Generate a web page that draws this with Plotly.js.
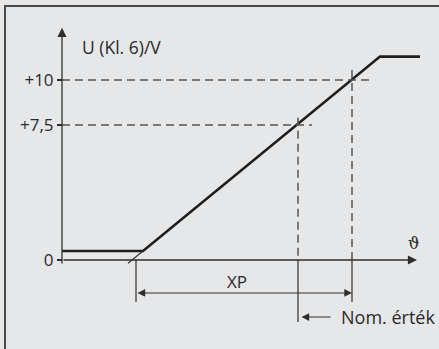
<!DOCTYPE html>
<html>
<head>
<meta charset="utf-8">
<script src="https://cdn.plot.ly/plotly-3.0.1.min.js"></script>
<style>html,body{margin:0;padding:0;background:#e6e7e9;}#chart{width:439px;height:349px;}</style>
</head>
<body>
<div id="chart"></div>
<script>
// ---- data (arbitrary temperature units, U in volts) ----
const curveTheta = [0, 8.1, 31.8, 35.8];
const curveU = [0.5, 0.5, 11.3, 11.3];
const extensionTheta = [8.1, 6.6];
const extensionU = [0.5, -0.18];
const levelU = [7.5, 10];
const levelLabels = ['+7,5', '+10'];
const levelTheta = [23.6, 29.0];
const hLineEnd = [25.0, 31.1];
const vLineTop = [7.9, 10.56];
const vLineBottom = [-3.44, -2.33];
const xpStart = 7.4;
const xpArrowU = -1.83;
const nomArrowU = -3.17;
const tickVals = [0, 7.5, 10];
const tickText = ['0', '+7,5', '+10'];

const dark = '#1f1f1f', axisCol = '#2e2e2e', dashCol = '#555555', txt = '#2a2a2a';
const font = 'Open Sans, Noto Sans, sans-serif';

const traces = [];
// main characteristic
traces.push({x: curveTheta, y: curveU, mode: 'lines', line: {color: dark, width: 2.6}, hoverinfo: 'skip', showlegend: false});
// thin extension of the slope
traces.push({x: extensionTheta, y: extensionU, mode: 'lines', line: {color: axisCol, width: 1.1}, hoverinfo: 'skip', showlegend: false});
// dashed reference lines
levelU.forEach((u, i) => {
  traces.push({x: [0, hLineEnd[i]], y: [u, u], mode: 'lines', line: {color: dashCol, width: 1.5, dash: '8px,5px'}, hoverinfo: 'skip', showlegend: false});
  traces.push({x: [levelTheta[i], levelTheta[i]], y: [vLineTop[i], 0], mode: 'lines', line: {color: dashCol, width: 1.5, dash: '8px,5px'}, hoverinfo: 'skip', showlegend: false});
  traces.push({x: [levelTheta[i], levelTheta[i]], y: [0, vLineBottom[i]], mode: 'lines', line: {color: axisCol, width: 1.2}, hoverinfo: 'skip', showlegend: false});
});
// XP start extension line
traces.push({x: [xpStart, xpStart], y: [0, vLineBottom[1]], mode: 'lines', line: {color: axisCol, width: 1.2}, hoverinfo: 'skip', showlegend: false});

const annotations = [
  // y axis arrow
  {x: 0, y: 12.9, ax: 0, ay: -0.28, xref: 'x', yref: 'y', axref: 'x', ayref: 'y', text: '', showarrow: true, arrowhead: 2, arrowsize: 1.4, arrowwidth: 1.3, arrowcolor: axisCol, standoff: 0, startstandoff: 0},
  // x axis arrow
  {x: 35.5, y: 0, ax: 0, ay: 0, xref: 'x', yref: 'y', axref: 'x', ayref: 'y', text: '', showarrow: true, arrowhead: 2, arrowsize: 1.4, arrowwidth: 1.3, arrowcolor: axisCol, standoff: 0, startstandoff: 0},
  // XP dimension arrow
  {x: levelTheta[1], y: xpArrowU, ax: xpStart, ay: xpArrowU, xref: 'x', yref: 'y', axref: 'x', ayref: 'y', text: '', showarrow: true, arrowside: 'end+start', arrowhead: 2, startarrowhead: 2, arrowsize: 1.4, startarrowsize: 1.4, arrowwidth: 1.1, arrowcolor: axisCol, standoff: 0, startstandoff: 0},
  // Nom. érték arrow
  {x: levelTheta[0] + 0.35, y: nomArrowU, ax: 27.0, ay: nomArrowU, xref: 'x', yref: 'y', axref: 'x', ayref: 'y', text: '', showarrow: true, arrowhead: 2, arrowsize: 1.4, arrowwidth: 1.1, arrowcolor: axisCol, standoff: 0, startstandoff: 0},
  // texts
  {x: 1.8, y: 11.83, xref: 'x', yref: 'y', text: 'U (Kl. 6)/V', showarrow: false, xanchor: 'left', yanchor: 'middle', font: {family: font, size: 17.5, color: txt}},
  {x: 35.1, y: 0.9, xref: 'x', yref: 'y', text: 'ϑ', showarrow: false, xanchor: 'center', yanchor: 'middle', font: {family: 'DejaVu Serif, serif', size: 16, color: txt}},
  {x: 17.5, y: -1.2, xref: 'x', yref: 'y', text: 'XP', showarrow: false, xanchor: 'center', yanchor: 'middle', font: {family: font, size: 17, color: txt}},
  {x: 27.7, y: nomArrowU, xref: 'x', yref: 'y', text: 'Nom. érték', showarrow: false, xanchor: 'left', yanchor: 'middle', font: {family: font, size: 18, color: txt}}
];

const layout = {
  width: 439, height: 349,
  margin: {l: 0, r: 0, t: 0, b: 0, pad: 0},
  paper_bgcolor: '#e6e7e9', plot_bgcolor: '#e6e7e9',
  showlegend: false,
  xaxis: {range: [-6.2, 37.7], visible: false, fixedrange: true},
  yaxis: {
    range: [-4.944, 14.444], anchor: 'free', position: 62 / 439, side: 'left',
    tickmode: 'array', tickvals: tickVals, ticktext: tickText,
    ticks: 'outside', ticklen: 5, tickwidth: 1.2, tickcolor: axisCol,
    showline: false, showgrid: false, zeroline: false, fixedrange: true,
    tickfont: {family: font, size: 17, color: txt}
  },
  shapes: [
    {type: 'path', xref: 'paper', yref: 'paper', path: 'M 0.0114 0 L 0.0114 0.983 L 1 0.983', line: {color: '#4a4a4a', width: 2}, layer: 'above'}
  ],
  annotations: annotations
};

Plotly.newPlot('chart', traces, layout, {displayModeBar: false, staticPlot: true});
</script>
</body>
</html>
